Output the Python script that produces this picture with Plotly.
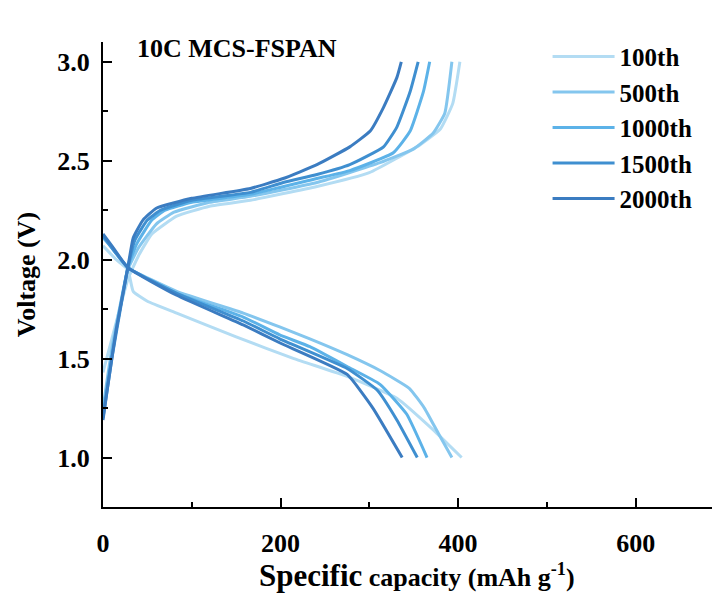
import plotly.graph_objects as go

cycles = ["100th", "500th", "1000th", "1500th", "2000th"]
colors = ["#b3dcf3", "#84c6ee", "#5cb2e8", "#3f8fd0", "#3b7cc1"]

# discharge branches (capacity mAh/g, voltage V)
dis_cap = [
    [0, 15, 28, 34, 50, 83, 150, 215, 275, 331, 372, 404],
    [0, 10, 28, 83, 158, 199, 233, 275, 312, 345, 362, 378, 393],
    [0, 10, 28, 83, 158, 199, 233, 275, 312, 342, 365],
    [0, 10, 28, 83, 158, 199, 275, 309, 331, 354],
    [0, 10, 28, 83, 158, 199, 275, 304, 337],
]
dis_v = [
    [2.07, 2.00, 1.95, 1.84, 1.79, 1.73, 1.61, 1.50, 1.41, 1.30, 1.14, 1.00],
    [2.11, 2.06, 1.96, 1.84, 1.73, 1.66, 1.60, 1.52, 1.44, 1.35, 1.25, 1.12, 1.00],
    [2.12, 2.06, 1.96, 1.83, 1.71, 1.62, 1.56, 1.46, 1.37, 1.22, 1.00],
    [2.12, 2.06, 1.96, 1.83, 1.69, 1.60, 1.45, 1.34, 1.19, 1.00],
    [2.13, 2.07, 1.96, 1.82, 1.67, 1.58, 1.42, 1.25, 1.00],
]
# charge branches
chg_cap = [
    [0, 10, 28, 40, 55, 83, 120, 166, 241, 300, 357, 380, 394, 402],
    [0, 10, 28, 40, 60, 80, 120, 166, 241, 312, 350, 372, 385, 393],
    [0, 10, 28, 38, 55, 70, 100, 166, 241, 278, 327, 346, 361, 368],
    [0, 10, 28, 36, 50, 65, 100, 166, 203, 241, 278, 316, 331, 346, 355],
    [0, 5, 15, 28, 34, 45, 60, 100, 166, 203, 241, 278, 301, 316, 331, 336],
]
chg_v = [
    [1.43, 1.60, 1.90, 2.02, 2.13, 2.22, 2.27, 2.30, 2.37, 2.44, 2.58, 2.66, 2.79, 3.00],
    [1.25, 1.55, 1.95, 2.06, 2.18, 2.24, 2.29, 2.32, 2.39, 2.49, 2.56, 2.64, 2.74, 3.00],
    [1.22, 1.52, 1.96, 2.08, 2.20, 2.25, 2.29, 2.33, 2.41, 2.45, 2.54, 2.65, 2.85, 3.00],
    [1.20, 1.50, 1.96, 2.10, 2.20, 2.25, 2.30, 2.34, 2.39, 2.43, 2.48, 2.57, 2.67, 2.85, 3.00],
    [1.19, 1.35, 1.65, 1.96, 2.11, 2.20, 2.26, 2.31, 2.36, 2.41, 2.48, 2.57, 2.65, 2.77, 2.92, 3.00],
]

x_ticks = [0, 200, 400, 600]
y_ticks = [1.0, 1.5, 2.0, 2.5, 3.0]

FONT = "Liberation Serif"

fig = go.Figure()
for i, name in enumerate(cycles):
    xs = dis_cap[i] + [None] + chg_cap[i]
    ys = dis_v[i] + [None] + chg_v[i]
    fig.add_trace(go.Scatter(
        x=xs, y=ys, mode="lines", name=name,
        line=dict(color=colors[i], width=3, shape="spline", smoothing=0.4),
        connectgaps=False,
    ))

axis_common = dict(
    showgrid=False, zeroline=False, showline=True, linecolor="black", linewidth=2,
    ticks="inside", ticklen=9, tickwidth=2, tickcolor="black",
    tickfont=dict(family=FONT, size=26, color="black", weight="bold"),
)
fig.update_xaxes(
    range=[0, 686], tickvals=x_ticks, ticktext=[str(t) for t in x_ticks],
    ticklabelstandoff=12,
    minor=dict(dtick=100, tick0=0, ticks="inside", ticklen=5, tickwidth=2, tickcolor="black"),
    **axis_common,
)
fig.update_yaxes(
    range=[0.75, 3.1], tickvals=y_ticks, ticktext=[f"{t:.1f}" for t in y_ticks],
    ticklabelstandoff=6,
    minor=dict(dtick=0.25, tick0=0, ticks="inside", ticklen=5, tickwidth=2, tickcolor="black"),
    title=dict(text="<b>Voltage (V)</b>", font=dict(family=FONT, size=26, color="black"), standoff=14),
    **axis_common,
)

fig.add_annotation(
    xref="paper", yref="paper", x=0.515, y=-0.148, xanchor="center", yanchor="middle",
    showarrow=False,
    text="<b><span style='font-size:31px'>Specific</span> capacity (mAh g<sup>-1</sup>)</b>",
    font=dict(family=FONT, size=26, color="black"),
)
fig.add_annotation(
    xref="paper", yref="paper", x=0.053, y=0.987, xanchor="left", yanchor="middle",
    showarrow=False, text="<b>10C MCS-FSPAN</b>",
    font=dict(family=FONT, size=26, color="black"),
)

fig.update_layout(
    width=712, height=594,
    margin=dict(l=103, r=0, t=42, b=87),
    paper_bgcolor="white", plot_bgcolor="white",
    showlegend=True,
    legend=dict(
        x=0.73, y=1.018, xanchor="left", yanchor="top",
        font=dict(family=FONT, size=25, color="black", weight="bold"),
        bgcolor="rgba(0,0,0,0)", itemwidth=62, tracegroupgap=0,
    ),
)

fig.write_html("out.html")
